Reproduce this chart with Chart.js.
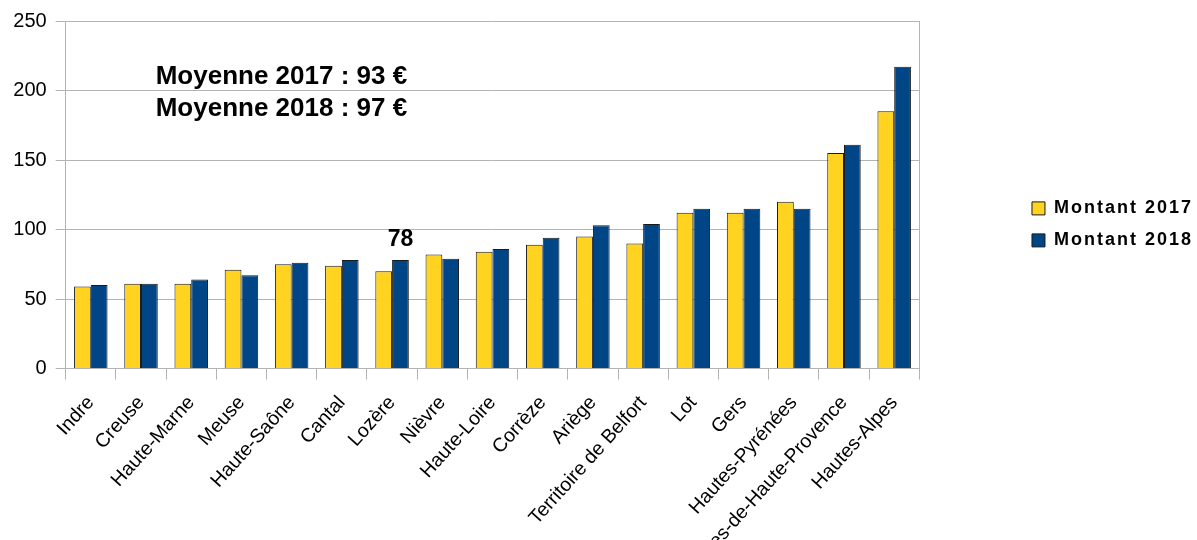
<!DOCTYPE html>
<html>
<head>
<meta charset="utf-8">
<script src="https://cdn.jsdelivr.net/npm/chart.js@4/dist/chart.umd.min.js"></script>
<style>
  body { margin: 0; background: #fff; }
  #wrap { width: 1197px; height: 540px; position: relative; }
</style>
</head>
<body>
<div id="wrap"><canvas id="montantChart"></canvas></div>
<script>
const categories = ['Indre', 'Creuse', 'Haute-Marne', 'Meuse', 'Haute-Saône', 'Cantal', 'Lozère', 'Nièvre',
  'Haute-Loire', 'Corrèze', 'Ariège', 'Territoire de Belfort', 'Lot', 'Gers', 'Hautes-Pyrénées',
  'Alpes-de-Haute-Provence', 'Hautes-Alpes'];
const montant2017 = [59, 61, 61, 71, 75, 74, 70, 82, 84, 89, 95, 90, 112, 112, 120, 155, 185];
const montant2018 = [60, 61, 64, 67, 76, 78, 78, 79, 86, 94, 103, 104, 115, 115, 115, 161, 217];
const moyennes = [['2017', 93], ['2018', 97]];
const yTicks = [0, 50, 100, 150, 200, 250];
const highlightIndex = 6; // Lozère, 2018

const FONT = "'Liberation Sans', Arial, sans-serif";
const GRID = '#b3b3b3';
Chart.defaults.color = '#000';
Chart.defaults.font.family = FONT;

// texts written on the chart: the averages and the Lozère value
const annotations = {
  id: 'annotations',
  afterDatasetsDraw(chart) {
    const ctx = chart.ctx;
    const area = chart.chartArea;
    ctx.save();
    ctx.fillStyle = '#000';
    ctx.font = 'bold 26px ' + FONT;
    ctx.textAlign = 'left';
    ctx.textBaseline = 'alphabetic';
    moyennes.forEach((m, i) => {
      ctx.fillText('Moyenne ' + m[0] + ' : ' + m[1] + ' €', area.left + 90, area.top + 63 + i * 32);
    });
    const bar = chart.getDatasetMeta(1).data[highlightIndex];
    ctx.font = 'bold 23px ' + FONT;
    ctx.textAlign = 'center';
    ctx.textBaseline = 'bottom';
    ctx.fillText(String(montant2018[highlightIndex]), bar.x, bar.y - 9);
    ctx.restore();
  }
};

// the legend text is a bit spaced out in the original, and sits closer to the edge
const spacedLegend = {
  id: 'spacedLegend',
  afterInit(chart) {
    const lg = chart.legend;
    if (!lg) return;
    const ctx = chart.ctx;
    const fit = lg.fit.bind(lg);
    const draw = lg.draw.bind(lg);
    lg.fit = function () { ctx.letterSpacing = '2px'; fit(); ctx.letterSpacing = '0px'; };
    lg.draw = function (a) {
      ctx.save();
      ctx.translate(6, 0);
      ctx.letterSpacing = '2px';
      draw(a);
      ctx.restore();
      ctx.letterSpacing = '0px';
    };
  }
};

new Chart(document.getElementById('montantChart'), {
  type: 'bar',
  data: {
    labels: categories,
    datasets: [{
      label: 'Montant 2017',
      data: montant2017,
      backgroundColor: '#ffd320',
      borderColor: '#1a1a1a',
      borderWidth: 1
    }, {
      label: 'Montant 2018',
      data: montant2018,
      backgroundColor: '#004586',
      borderColor: '#1a1a1a',
      borderWidth: 1
    }]
  },
  options: {
    responsive: true,
    maintainAspectRatio: false,
    animation: false,
    datasets: { bar: { categoryPercentage: 0.667, barPercentage: 1 } },
    layout: { padding: { top: 10, bottom: 0, left: 0, right: 0 } },
    plugins: {
      tooltip: { enabled: false },
      legend: {
        position: 'right',
        align: 'start',
        title: { display: true, text: '', font: { size: 12 }, padding: { top: 161, bottom: 0 } },
        labels: {
          boxWidth: 13,
          boxHeight: 13,
          padding: 14,
          font: { size: 18, weight: 'bold' },
          color: '#000'
        }
      }
    },
    scales: {
      x: {
        grid: { offset: true, drawOnChartArea: false, color: GRID, tickLength: 11 },
        border: { color: GRID },
        ticks: { autoSkip: false, maxRotation: 48, minRotation: 48, font: { size: 19.5 }, padding: 12 },
        afterFit: s => { s.height = 171.5; }
      },
      y: {
        min: 0,
        max: 250,
        afterBuildTicks: s => { s.ticks = yTicks.map(v => ({ value: v })); },
        grid: { color: GRID, tickLength: 10 },
        border: { color: GRID },
        ticks: { font: { size: 20 }, padding: 9 },
        afterFit: s => { s.width = 65.7; }
      },
      y2: {
        position: 'right',
        min: 0,
        max: 250,
        ticks: { display: false },
        grid: { drawOnChartArea: false, drawTicks: false },
        border: { color: GRID },
        afterFit: s => {
          const lw = s.chart.legend ? s.chart.legend.width : 0;
          s.width = Math.max(0, 1197 - 919.3 - lw);
        }
      }
    }
  },
  plugins: [annotations, spacedLegend]
});
</script>
</body>
</html>
